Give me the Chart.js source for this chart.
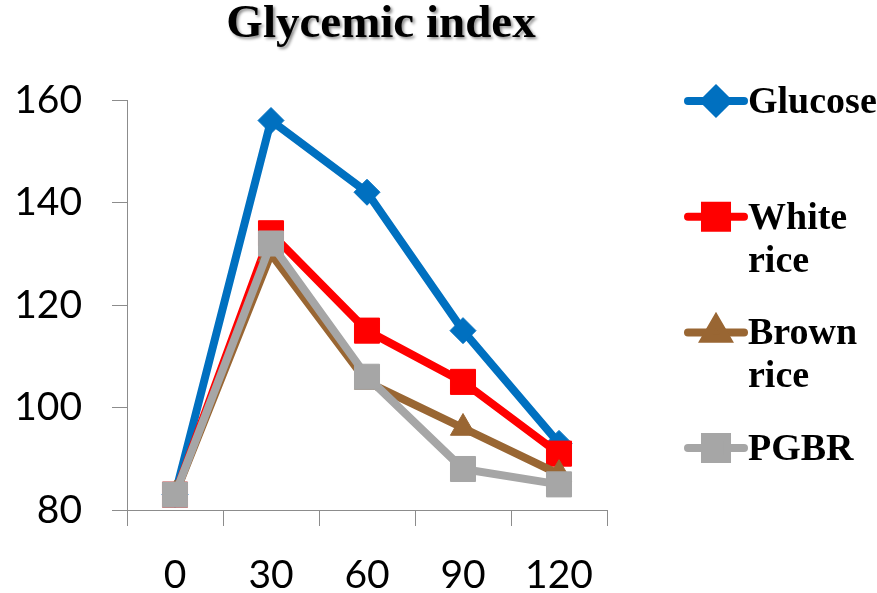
<!DOCTYPE html>
<html>
<head>
<meta charset="utf-8">
<script src="https://cdn.jsdelivr.net/npm/chart.js@4.4.1/dist/chart.umd.min.js"></script>
<style>
  html, body { margin: 0; padding: 0; background: #fff; }
  #wrap { position: relative; width: 877px; height: 593px; }
</style>
</head>
<body>
<div id="wrap"><canvas id="chart" width="877" height="593"></canvas></div>
<script>
// Blood glucose after a test meal, sampled every 30 min.
const TITLE = 'Glycemic index';
const minutes = ['0', '30', '60', '90', '120'];
const glucose = [83, 156, 142, 115, 93];
const whiteRice = [83, 134, 115, 105, 91];
const brownRice = [83, 130, 105, 96, 87];
const pgbr = [83, 132, 106, 88, 85];
const yTicks = [80, 100, 120, 140, 160];

const AXIS_GREY = '#8c8c8c';
const SERIF = '"Liberation Serif", "Times New Roman", serif';
const SANS = 'Lato, "Open Sans", sans-serif';

function series(label, data, color, pointStyle, pointRadius, order) {
  return {
    label, data, order,
    borderColor: color, backgroundColor: color,
    borderWidth: 8, borderCapStyle: 'round', borderJoinStyle: 'round',
    pointStyle, pointRadius, pointHoverRadius: pointRadius,
    pointBorderColor: color, pointBackgroundColor: color, pointBorderWidth: 1,
    tension: 0,
  };
}

// Title with a soft drop shadow, and a legend whose names wrap onto two lines.
const sideLegend = {
  id: 'sideLegend',
  afterDraw(chart) {
    const c = chart.ctx;
    c.save();
    c.font = 'bold 47px ' + SERIF;
    c.textAlign = 'center';
    c.textBaseline = 'alphabetic';
    c.fillStyle = '#000';
    c.shadowColor = 'rgba(0,0,0,0.45)';
    c.shadowOffsetX = 2;
    c.shadowOffsetY = 2;
    c.shadowBlur = 3;
    c.fillText(TITLE, 381, 37);
    c.restore();

    c.save();
    c.font = 'bold 38px ' + SERIF;
    c.textAlign = 'left';
    c.textBaseline = 'alphabetic';
    chart.data.datasets.forEach((ds, i) => {
      const base = 113 + i * 115.7;
      const ly = base - 12;
      c.strokeStyle = ds.borderColor;
      c.lineWidth = 8;
      c.lineCap = 'round';
      c.beginPath();
      c.moveTo(688, ly);
      c.lineTo(744, ly);
      c.stroke();
      c.fillStyle = ds.borderColor;
      Chart.helpers.drawPoint(c, {
        pointStyle: ds.pointStyle, radius: ds.pointRadius * 0.88,
        borderWidth: 1, rotation: 0,
      }, 716, ly);
      c.fillStyle = '#000';
      ds.label.split(' ').forEach((word, k) => c.fillText(word, 748, base + k * 43));
    });
    c.restore();
  },
};

new Chart(document.getElementById('chart'), {
  type: 'line',
  data: {
    labels: minutes,
    datasets: [
      series('Glucose', glucose, '#0070c0', 'rectRot', 13, 4),
      series('White rice', whiteRice, '#ff0000', 'rect', 17.7, 3),
      series('Brown rice', brownRice, '#996633', 'triangle', 14.5, 2),
      series('PGBR', pgbr, '#a6a6a6', 'rect', 17.7, 1),
    ],
  },
  options: {
    responsive: false,
    animation: false,
    layout: { padding: { top: 100, right: 270, left: 0, bottom: 0 } },
    plugins: {
      legend: { display: false },
      title: { display: false },
      tooltip: { enabled: false },
    },
    scales: {
      x: {
        offset: true,
        grid: { offset: true, drawOnChartArea: false, drawTicks: true, tickLength: 16, color: AXIS_GREY, lineWidth: 1 },
        border: { display: true, color: AXIS_GREY, width: 1 },
        ticks: { color: '#000', font: { family: SANS, size: 39 }, padding: 26, maxRotation: 0 },
        afterFit: s => { s.height = 83; },
      },
      y: {
        min: 80, max: 160,
        afterBuildTicks: s => { s.ticks = yTicks.map(v => ({ value: v })); },
        grid: { drawOnChartArea: false, drawTicks: true, tickLength: 15, color: AXIS_GREY, lineWidth: 1 },
        border: { display: true, color: AXIS_GREY, width: 1 },
        ticks: { color: '#000', font: { family: SANS, size: 39 }, padding: 30 },
        afterFit: s => { s.width = 127; },
      },
    },
  },
  plugins: [sideLegend],
});
</script>
</body>
</html>
